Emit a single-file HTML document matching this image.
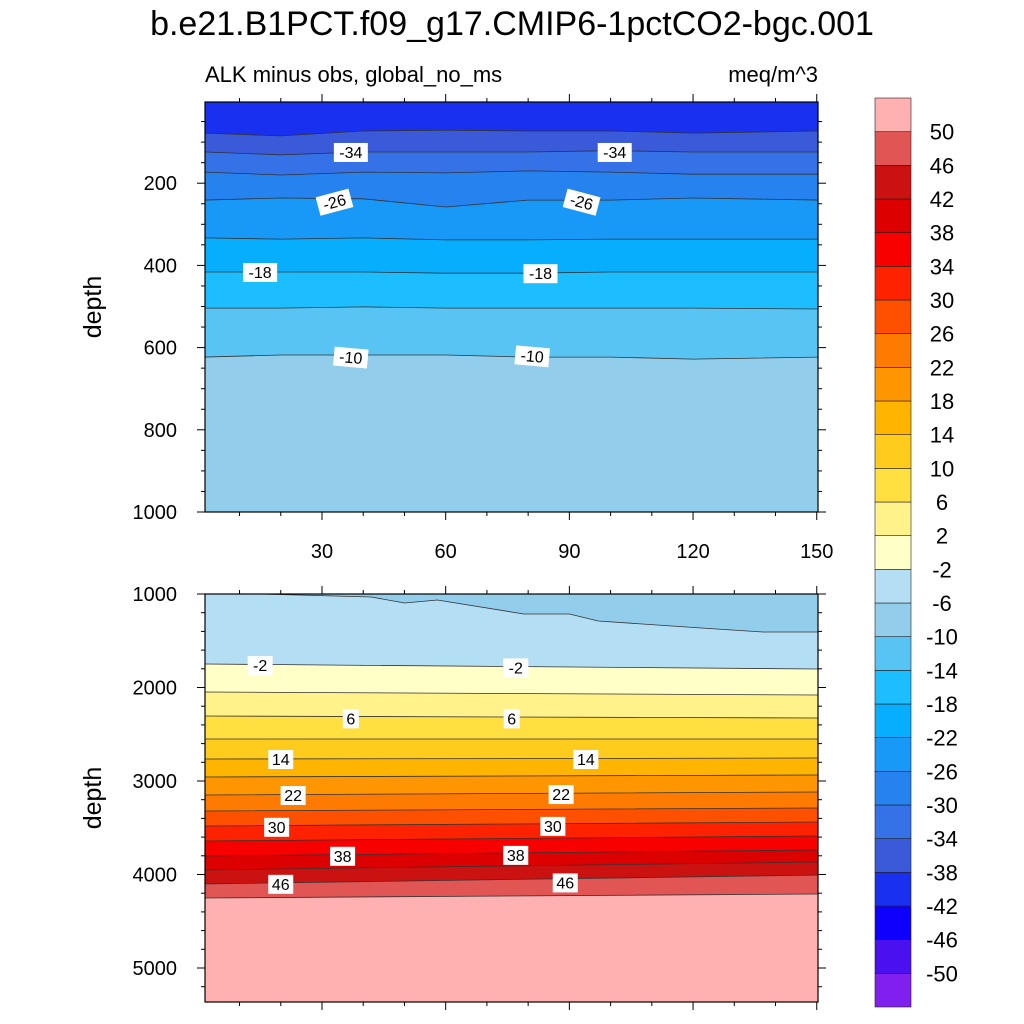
<!DOCTYPE html>
<html><head><meta charset="utf-8">
<style>
body{margin:0;background:#fff;}
svg{display:block;font-family:"Liberation Sans",sans-serif;}
</style></head>
<body>
<svg id="chart" width="1024" height="1024" viewBox="0 0 1024 1024">
<text x="512" y="35" font-size="34" text-anchor="middle">b.e21.B1PCT.f09_g17.CMIP6-1pctCO2-bgc.001</text>
<text x="205" y="82" font-size="22">ALK minus obs, global_no_ms</text>
<text x="818" y="82" font-size="22" text-anchor="end">meq/m^3</text>
<text transform="translate(101,307) rotate(-90)" font-size="25" text-anchor="middle">depth</text>
<text transform="translate(101,798) rotate(-90)" font-size="25" text-anchor="middle">depth</text>
<g id="topPanel"></g>
<g id="botPanel"></g>
<g id="cbar"></g>
</svg>
<script>
const levels = [-50,-46,-42,-38,-34,-30,-26,-22,-18,-14,-10,-6,-2,2,6,10,14,18,22,26,30,34,38,42,46,50];
const colors = ["#8020EE","#4A10F0","#0E00FF","#1A30F0","#3A5ADA","#3572E8","#2582EE","#1899F8","#08AEFE","#1CBEFF","#58C4F4","#92CEEC","#B4DEF4","#FFFFC8","#FFF28A","#FFE040","#FFCB1C","#FFB400","#FF9500","#FF7A00","#FF5000","#FF2200","#F80000","#DD0000","#CC1111","#E25555","#FFB0B0"];
const topX = [1.5,20,40,60,80,100,120,150.5];
const topLevels = [-38,-34,-30,-26,-22,-18,-14,-10];
const topDepths = [
 [78,85,73,71,73,73,78,73],
 [124,131,124,124,124,121,124,124],
 [173,180,173,175,170,173,178,178],
 [241,236,238,258,241,241,236,241],
 [333,336,333,338,338,336,336,336],
 [416,416,416,419,419,416,416,416],
 [504,504,501,504,504,504,504,506],
 [623,618,618,618,623,623,628,623]
];
const botX = [1.5,75,150.5];
const botLevels = [-2,2,6,10,14,18,22,26,30,34,38,42,46,50];
const botDepths = [
 [1749,1775,1802],[2048,2064,2080],[2305,2315,2326],[2551,2551,2551],
 [2765,2760,2754],[2957,2946,2936],[3150,3134,3118],[3321,3305,3289],
 [3481,3460,3439],[3642,3615,3588],[3802,3770,3738],[3952,3909,3866],
 [4102,4054,4006],[4251,4230,4209]
];
const m6X = [1.5,15,42,50,58,79,90,97,122,137,150.5];
const m6D = [990,1000,1032,1096,1064,1214,1214,1289,1364,1406,1406];
const topLabels = [["-34",37,124,0],["-34",101,124,0],["-26",33,245,-15],["-26",93,245,15],["-18",15,416,0],["-18",83,419,0],["-10",37,623,5],["-10",81,620,5]];
const botLabels = [["-2",15,1760],["-2",77,1785],["6",37,2330],["6",76,2330],["14",20,2765],["14",94,2765],["22",23,3150],["22",88,3140],["30",19,3490],["30",86,3480],["38",35,3800],["38",77,3790],["46",20,4100],["46",89,4085]];

const NS="http://www.w3.org/2000/svg";
function mk(p,t,a){const e=document.createElementNS(NS,t);for(const k in a)e.setAttribute(k,a[k]);p.appendChild(e);return e;}
const X0=205,X1=818;
const sx=v=>198.3+v*4.123;
const syT=d=>101+d*0.411;
const syB=d=>594+(d-1000)*0.0935;
function colorBelow(L){return colors[levels.indexOf(L)];}

function drawPanel(g,y0,y1,sy,bg,xs,lvls,deps,extra){
  mk(g,'rect',{x:X0,y:y0,width:X1-X0,height:y1-y0,fill:bg});
  const clip=mk(g,'clipPath',{id:'c'+y0});
  mk(clip,'rect',{x:X0,y:y0,width:X1-X0,height:y1-y0});
  const cg=mk(g,'g',{'clip-path':'url(#c'+y0+')'});
  const all=[];
  for(let i=lvls.length-1;i>=0;i--) all.push([lvls[i],xs,deps[i]]);
  if(extra) all.push(extra);
  all.forEach(([L,xx,dd])=>{
    const pts=xx.map((x,j)=>sx(x).toFixed(1)+','+sy(dd[j]).toFixed(1));
    const poly=mk(cg,'polygon',{points:(X0-5)+','+(y0-5)+' '+pts.join(' ')+' '+(X1+5)+','+(y0-5),fill:colorBelow(L)});
    
    
    const line=mk(cg,'polyline',{points:pts.join(' '),fill:'none',stroke:'#333',"stroke-width":0.8});
    
    
  });
  mk(g,'rect',{x:X0,y:y0,width:X1-X0,height:y1-y0,fill:'none',stroke:'#000',"stroke-width":1.2});
}
const topG=document.getElementById('topPanel'), botG=document.getElementById('botPanel');
drawPanel(topG,102,512,syT,colors[levels.indexOf(-6)],topX,topLevels,topDepths,null);
drawPanel(botG,594,1002,syB,colors[26],botX,botLevels,botDepths,[-6,m6X,m6D]);

function label(g,t,x,y,rot){
  const gg=mk(g,'g',{transform:`translate(${x},${y}) rotate(${rot||0})`});
  
  
  const w=t.length*9+7;
  mk(gg,'rect',{x:-w/2,y:-9,width:w,height:19,fill:'#fff'});
  const tx=mk(gg,'text',{x:0,y:6,"font-size":16,"text-anchor":"middle"});tx.textContent=t;
}
topLabels.forEach(l=>label(topG,l[0],sx(l[1]),syT(l[2]),l[3]));
botLabels.forEach(l=>label(botG,l[0],sx(l[1]),syB(l[2]),0));

function ticks(g,y0,y1,sy,dmin,dmax,major,minor,xlabels){
  for(let v=10;v<=150;v+=10){
    const x=sx(v),M=v%30===0,len=M?8:4;
    mk(g,'line',{x1:x,y1:y0,x2:x,y2:y0-len,stroke:'#000'});
    mk(g,'line',{x1:x,y1:y1,x2:x,y2:y1+len,stroke:'#000'});
    if(M&&xlabels){const t=mk(g,'text',{x:x,y:y1+46,"font-size":20,"text-anchor":"middle"});t.textContent=v;
      }
  }
  for(let d=dmin;d<=dmax;d+=minor){
    const y=sy(d);if(y<y0-0.5||y>y1+0.5)continue;
    const M=d%major===0,len=M?8:4;
    mk(g,'line',{x1:X0,y1:y,x2:X0-len,y2:y,stroke:'#000'});
    mk(g,'line',{x1:X1,y1:y,x2:X1+len,y2:y,stroke:'#000'});
    if(M){const t=mk(g,'text',{x:177,y:y+7,"font-size":20,"text-anchor":"end"});t.textContent=d;
      }
  }
}
ticks(topG,102,512,syT,0,1000,200,50,true);
ticks(botG,594,1002,syB,1000,5400,1000,200,false);

const cb=document.getElementById('cbar');
const cy0=98,cy1=1007,ch=(cy1-cy0)/colors.length;
colors.forEach((c,i)=>{
  const y=cy1-(i+1)*ch;
  const r=mk(cb,'rect',{x:875,y:y,width:36,height:ch,fill:c,stroke:'#222',"stroke-width":0.6});
  
  
});
levels.forEach((L,i)=>{
  const y=cy1-(i+1)*ch;
  const t=mk(cb,'text',{x:942,y:y+8,"font-size":22,"text-anchor":"middle"});t.textContent=L;
  
  
});
</script>
</body></html>
